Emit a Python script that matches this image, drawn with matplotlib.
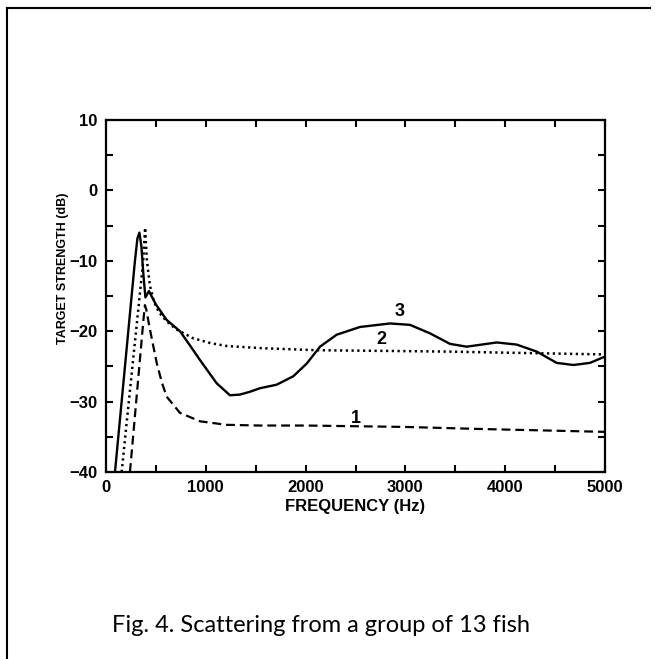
import matplotlib
matplotlib.use("Agg")
import matplotlib.pyplot as plt
from matplotlib.lines import Line2D
from matplotlib import font_manager

# Curva 1 (discontinua)
freq_1 = [240, 290, 340, 375, 390, 405, 430, 458, 508, 560, 608, 741, 942,
          1209, 1543, 2000, 2512, 3000, 3778, 4400, 5000]
ts_1 = [-40, -32, -24, -18.4, -16.3, -17, -19, -21, -24.5, -27.3, -29.3, -31.6,
        -32.8, -33.3, -33.4, -33.4, -33.5, -33.6, -33.9, -34.1, -34.3]

# Curva 2 (punteada)
freq_2 = [157, 220, 280, 330, 373, 392, 410, 440, 480, 530, 608, 700, 872,
          1050, 1209, 1543, 2111, 2800, 3447, 4200, 5000]
ts_2 = [-40, -31.2, -22.9, -16, -10, -5.3, -10, -13.5, -15.8, -17.3, -18.6,
        -19.7, -21.0, -21.7, -22.1, -22.4, -22.7, -22.8, -22.9, -23.1, -23.3]

# Curva 3 (continua)
freq_3 = [90, 150, 200, 250, 290, 315, 335, 355, 375, 395, 430, 500, 608, 741,
          850, 942, 1109, 1242, 1343, 1443, 1543, 1710, 1877, 2011, 2144, 2311,
          2545, 2846, 3046, 3246, 3447, 3614, 3915, 4115, 4316, 4516, 4683,
          4850, 5000]
ts_3 = [-40, -31, -23.5, -16, -10, -6.8, -6, -8, -12, -15.2, -14.3, -16.2,
        -18.4, -20.0, -22.2, -24.1, -27.4, -29.1, -29.0, -28.6, -28.1, -27.6,
        -26.4, -24.6, -22.2, -20.5, -19.4, -18.9, -19.1, -20.3, -21.8, -22.2,
        -21.6, -21.9, -22.9, -24.5, -24.8, -24.5, -23.6]

# Etiquetas de las curvas: (texto, frecuencia, dB)
curve_labels = [("1", 2505, -32.4), ("2", 2762, -21.2), ("3", 2946, -17.2)]

x_ticks = list(range(0, 5001, 500))
y_ticks = list(range(-40, 11, 5))

# Fuente estrecha si existe
nombres = {f.name for f in font_manager.fontManager.ttflist}
fuente = "Liberation Sans Narrow" if "Liberation Sans Narrow" in nombres else "Liberation Sans"

fig = plt.figure(figsize=(6.55, 6.59), dpi=100)
ax = fig.add_axes([106 / 655, 1 - 472 / 659, 499 / 655, 352 / 659])

ax.plot(freq_1, ts_1, color="black", linewidth=1.6, linestyle=(0, (4, 2.2)))
ax.plot(freq_2, ts_2, color="black", linewidth=1.8, linestyle=(0, (0.9, 1.4)))
ax.plot(freq_3, ts_3, color="black", linewidth=1.7)

for texto, fx, fy in curve_labels:
    ax.text(fx, fy, texto, ha="center", va="center", fontsize=13,
            fontweight="bold", family=fuente)

ax.set_xlim(0, 5000)
ax.set_ylim(-40, 10)
ax.set_xticks(x_ticks)
ax.set_xticklabels([str(v) if v % 1000 == 0 else "" for v in x_ticks],
                   family=fuente, fontweight="bold", fontsize=12)
ax.set_yticks(y_ticks)
ax.set_yticklabels([str(v).replace("-", "\u2212") if v % 10 == 0 else ""
                    for v in y_ticks],
                   family=fuente, fontweight="bold", fontsize=12)
ax.tick_params(direction="in", length=5, width=1.5, top=True, right=True)
ax.tick_params(axis="x", pad=6)
ax.tick_params(axis="y", pad=6)
for s in ax.spines.values():
    s.set_linewidth(1.6)

ax.set_xlabel("FREQUENCY (Hz)", fontsize=12, fontweight="bold", family=fuente,
              labelpad=3)
ax.set_ylabel("TARGET STRENGTH (dB)", fontsize=9, fontweight="bold",
              family=fuente)
ax.yaxis.set_label_coords(-0.074, 0.58)

# Marco de la figura
fig.add_artist(Line2D([7 / 655, 7 / 655], [0, 1 - 8 / 659], color="black",
                      linewidth=1.5, transform=fig.transFigure))
fig.add_artist(Line2D([7 / 655, 650 / 655], [1 - 8 / 659, 1 - 8 / 659],
                      color="black", linewidth=1.5, transform=fig.transFigure))

fig.text(112 / 655, 1 - 632 / 659, "Fig. 4. Scattering from a group of 13 fish",
         fontsize=17, family="Lato", ha="left", va="baseline")

fig.savefig("out.png", dpi=100)
